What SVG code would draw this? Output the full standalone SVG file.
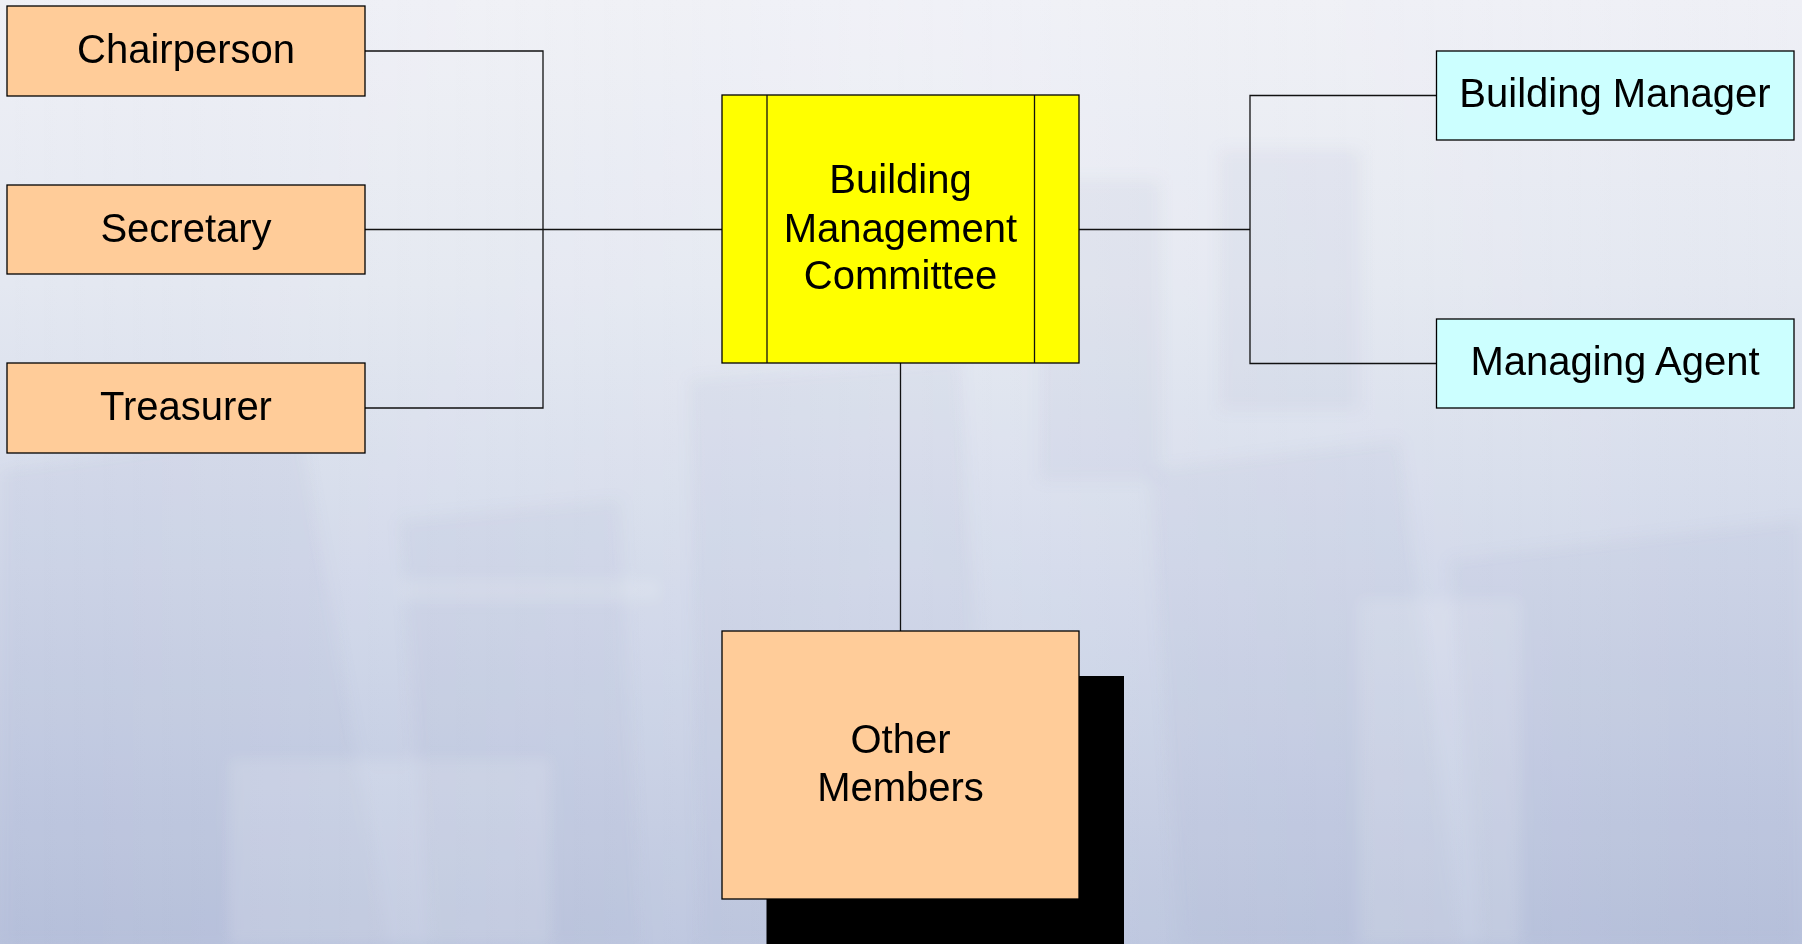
<svg xmlns="http://www.w3.org/2000/svg" width="1802" height="944" viewBox="0 0 1802 944">
  <defs>
    <linearGradient id="sky" x1="0" y1="0" x2="0" y2="1">
      <stop offset="0" stop-color="#eff0f6"/>
      <stop offset="0.3" stop-color="#e4e8f1"/>
      <stop offset="0.6" stop-color="#d2d9ea"/>
      <stop offset="1" stop-color="#b9c3dd"/>
    </linearGradient>
    <linearGradient id="haze" x1="0" y1="0" x2="1" y2="0">
      <stop offset="0" stop-color="#ffffff" stop-opacity="0"/>
      <stop offset="0.5" stop-color="#ffffff" stop-opacity="0.12"/>
      <stop offset="1" stop-color="#ffffff" stop-opacity="0"/>
    </linearGradient>
    <filter id="soft" x="-5%" y="-5%" width="110%" height="110%">
      <feGaussianBlur stdDeviation="7"/>
    </filter>
    <style>
      .box { stroke: #000000; stroke-width: 1.3; }
      .role { fill: #ffcc99; }
      .core { fill: #ffff00; }
      .staff { fill: #ccffff; }
      .label { font-family: "Liberation Sans", Arial, sans-serif; font-size: 40px; fill: #000000; text-anchor: middle; }
      .link { fill: none; stroke: #111111; stroke-width: 1.3; }
      .bldg { fill: #9aa6c4; opacity: 0.11; }
      .bldg-lt { fill: #ffffff; opacity: 0.14; }
    </style>
  </defs>

  <!-- hazy city backdrop -->
  <g id="backdrop">
    <rect x="0" y="0" width="1802" height="944" fill="url(#sky)"/>
    <g filter="url(#soft)">
      <polygon class="bldg" points="0,470 300,430 390,944 0,944"/>
      <polygon class="bldg" points="400,520 620,500 640,944 430,944"/>
      <polygon class="bldg" points="690,380 960,360 990,944 700,944"/>
      <polygon class="bldg" points="1150,470 1400,440 1460,944 1180,944"/>
      <polygon class="bldg" points="1450,560 1802,520 1802,944 1480,944"/>
      <rect class="bldg" x="1040" y="180" width="120" height="300"/>
      <rect class="bldg" x="1220" y="150" width="140" height="260"/>
      <rect class="bldg-lt" x="230" y="760" width="320" height="184"/>
      <rect class="bldg-lt" x="1360" y="600" width="160" height="344"/>
      <rect class="bldg-lt" x="400" y="580" width="260" height="20"/>
    </g>
    <rect x="0" y="0" width="1802" height="944" fill="url(#haze)"/>
  </g>

  <!-- connectors -->
  <g id="connectors">
    <polyline class="link" points="365,51 543,51 543,408 365,408"/>
    <line class="link" x1="365" y1="229.5" x2="722" y2="229.5"/>
    <line class="link" x1="1079" y1="229.5" x2="1250" y2="229.5"/>
    <polyline class="link" points="1436,95.5 1250,95.5 1250,363.5 1436,363.5"/>
    <line class="link" x1="900.5" y1="363" x2="900.5" y2="631"/>
  </g>

  <g id="chairperson">
    <rect class="box role" x="7" y="6" width="358" height="90"/>
    <text class="label" x="186" y="63">Chairperson</text>
  </g>

  <g id="secretary">
    <rect class="box role" x="7" y="185" width="358" height="89"/>
    <text class="label" x="186" y="241.5">Secretary</text>
  </g>

  <g id="treasurer">
    <rect class="box role" x="7" y="363" width="358" height="90"/>
    <text class="label" x="186" y="420">Treasurer</text>
  </g>

  <g id="committee">
    <rect class="box core" x="722" y="95" width="357" height="268"/>
    <line class="link" x1="767" y1="95" x2="767" y2="363"/>
    <line class="link" x1="1034.5" y1="95" x2="1034.5" y2="363"/>
    <text class="label" x="900.5" y="193">Building</text>
    <text class="label" x="900.5" y="241.5">Management</text>
    <text class="label" x="900.5" y="289">Committee</text>
  </g>

  <g id="building-manager">
    <rect class="box staff" x="1436.5" y="51" width="357.5" height="89"/>
    <text class="label" x="1615" y="107">Building Manager</text>
  </g>

  <g id="managing-agent">
    <rect class="box staff" x="1436.5" y="319" width="357.5" height="89"/>
    <text class="label" x="1615" y="375">Managing Agent</text>
  </g>

  <g id="other-members">
    <rect x="766.5" y="676" width="357.5" height="268" fill="#000000"/>
    <rect class="box role" x="722" y="631" width="357" height="268"/>
    <text class="label" x="900.5" y="753">Other</text>
    <text class="label" x="900.5" y="801">Members</text>
  </g>
</svg>
